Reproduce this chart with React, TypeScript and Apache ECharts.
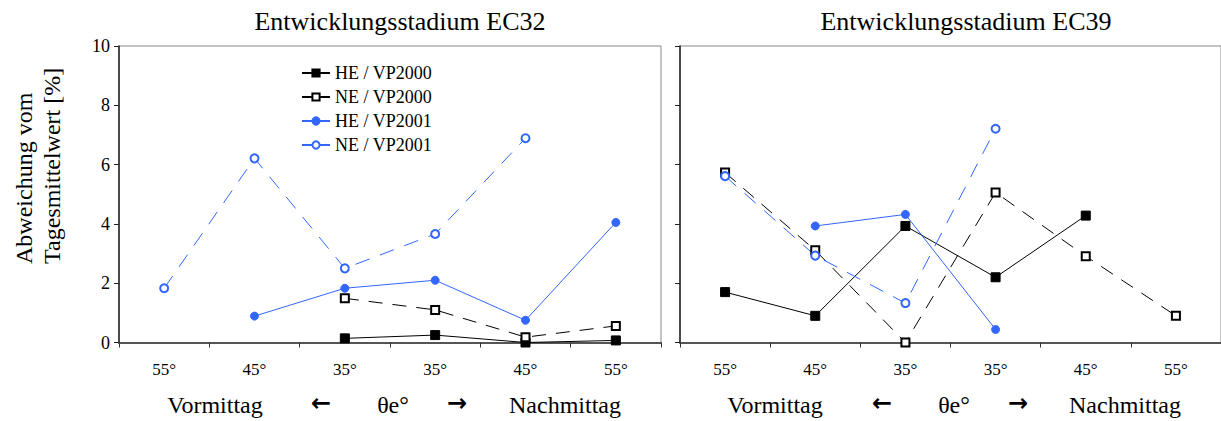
import React, { useEffect, useRef } from "react";
import * as echarts from "echarts";

const categories = ["55°", "45°", "35°", "35°", "45°", "55°"];
const yTicks = [0, 2, 4, 6, 8, 10];

// Entwicklungsstadium EC32 (left)
const ec32_HE2000 = [null, null, 0.14, 0.25, 0.0, 0.07];
const ec32_NE2000 = [null, null, 1.49, 1.1, 0.18, 0.56];
const ec32_HE2001 = [null, 0.89, 1.83, 2.1, 0.75, 4.05];
const ec32_NE2001 = [1.83, 6.21, 2.5, 3.66, 6.89, null];

// Entwicklungsstadium EC39 (right)
const ec39_HE2000 = [1.7, 0.9, 3.93, 2.2, 4.28, null];
const ec39_NE2000 = [5.73, 3.11, 0.0, 5.06, 2.91, 0.9];
const ec39_HE2001 = [null, 3.93, 4.32, 0.44, null, null];
const ec39_NE2001 = [5.61, 2.93, 1.33, 7.21, null, null];

const seriesNames = ["HE / VP2000", "NE / VP2000", "HE / VP2001", "NE / VP2001"];
const titles = ["Entwicklungsstadium EC32", "Entwicklungsstadium EC39"];
const yAxisName = "Abweichung vom\nTagesmittelwert [%]";
const bottomWords = ["Vormittag", "←", "θe°", "→", "Nachmittag"];

const FONT = "Liberation Serif";
const BLUE = "#3366ff";

export default function App() {
  const ref = useRef<HTMLDivElement>(null);
  useEffect(() => {
    document.body.style.margin = "0";
    const chart = echarts.init(ref.current!, null, { renderer: "svg" });

    const styles = [
      { color: "#000", type: "solid", symbol: "rect", size: 9 },
      { color: "#000", type: [14, 10], symbol: "emptyRect", size: 8 },
      { color: BLUE, type: "solid", symbol: "circle", size: 8 },
      { color: BLUE, type: [15, 11], symbol: "emptyCircle", size: 8 },
    ];
    const data = [
      [ec32_HE2000, ec32_NE2000, ec32_HE2001, ec32_NE2001],
      [ec39_HE2000, ec39_NE2000, ec39_HE2001, ec39_NE2001],
    ];

    const series: any[] = [];
    [0, 1].forEach((g) => {
      seriesNames.forEach((name, i) => {
        const s = styles[i];
        series.push({
          type: "line",
          name,
          xAxisIndex: g,
          yAxisIndex: g,
          data: data[g][i],
          symbol: s.symbol,
          symbolSize: s.size,
          showAllSymbol: true,
          itemStyle: { color: s.color, borderColor: s.color, borderWidth: 1 },
          lineStyle: { color: s.color, width: 1, type: s.type },
          emphasis: { disabled: true },
        });
      });
    });

    const xAxes = [0, 1].map((g) => ({
      type: "category",
      gridIndex: g,
      data: categories,
      boundaryGap: true,
      axisLine: { lineStyle: { color: "#555", width: 2 } },
      axisTick: { show: true, inside: false, length: 5, lineStyle: { color: "#333", width: 1 } },
      axisLabel: { fontFamily: FONT, fontSize: 17, color: "#000", margin: 18 },
    }));
    const yAxes = [0, 1].map((g) => ({
      type: "value",
      gridIndex: g,
      min: 0,
      max: 10,
      interval: 2,
      splitLine: { show: false },
      axisLine: { show: true, lineStyle: { color: "#222", width: 1.5 } },
      axisTick: { show: true, length: 5, lineStyle: { color: "#222" } },
      axisLabel: { show: g === 0, fontFamily: FONT, fontSize: 18, color: "#000", margin: 9 },
    }));

    const centers = [
      [215, 321, 393, 457, 565],
      [775, 882, 954, 1018, 1125],
    ];
    const graphic: any[] = [];
    centers.forEach((row) => {
      row.forEach((x, i) => {
        const isArrow = i === 1 || i === 3;
        graphic.push({
          type: "text",
          x,
          y: isArrow ? 403 : 405,
          style: {
            text: bottomWords[i],
            fontFamily: isArrow ? "DejaVu Sans" : FONT,
            fontSize: isArrow ? 24 : 24,
            fontWeight: isArrow ? "bold" : "normal",
            fill: "#000",
            align: "center",
            verticalAlign: "middle",
          },
        });
      });
    });
    graphic.push({
      type: "text",
      x: 38,
      y: 264,
      rotation: Math.PI / 2,
      style: {
        text: yAxisName,
        fontFamily: FONT,
        fontSize: 24,
        lineHeight: 28,
        fill: "#000",
        align: "left",
        verticalAlign: "middle",
      },
    });

    const titleStyle = { fontFamily: FONT, fontSize: 26, fontWeight: "normal", color: "#000" };
    chart.setOption({
      animation: false,
      backgroundColor: "#fff",
      title: [
        { text: titles[0], left: 400, top: 8, padding: 0, textAlign: "center", textStyle: titleStyle },
        { text: titles[1], left: 966, top: 8, padding: 0, textAlign: "center", textStyle: titleStyle },
      ],
      legend: {
        orient: "vertical",
        left: 301,
        top: 64,
        padding: 0,
        itemGap: 6,
        itemWidth: 28,
        itemHeight: 9,
        data: seriesNames,
        textStyle: { fontFamily: FONT, fontSize: 18, color: "#000" },
        lineStyle: { type: "solid" },
        selectedMode: false,
      },
      grid: [
        { left: 119, top: 46, width: 542, height: 296.5, show: true, borderColor: "#888", borderWidth: 1 },
        { left: 680, top: 46, width: 545, height: 296.5, show: true, borderColor: "#888", borderWidth: 1 },
      ],
      xAxis: xAxes,
      yAxis: yAxes,
      series,
      graphic,
    });
    return () => chart.dispose();
  }, []);
  return <div ref={ref} style={{ width: 1221, height: 421 }} />;
}
